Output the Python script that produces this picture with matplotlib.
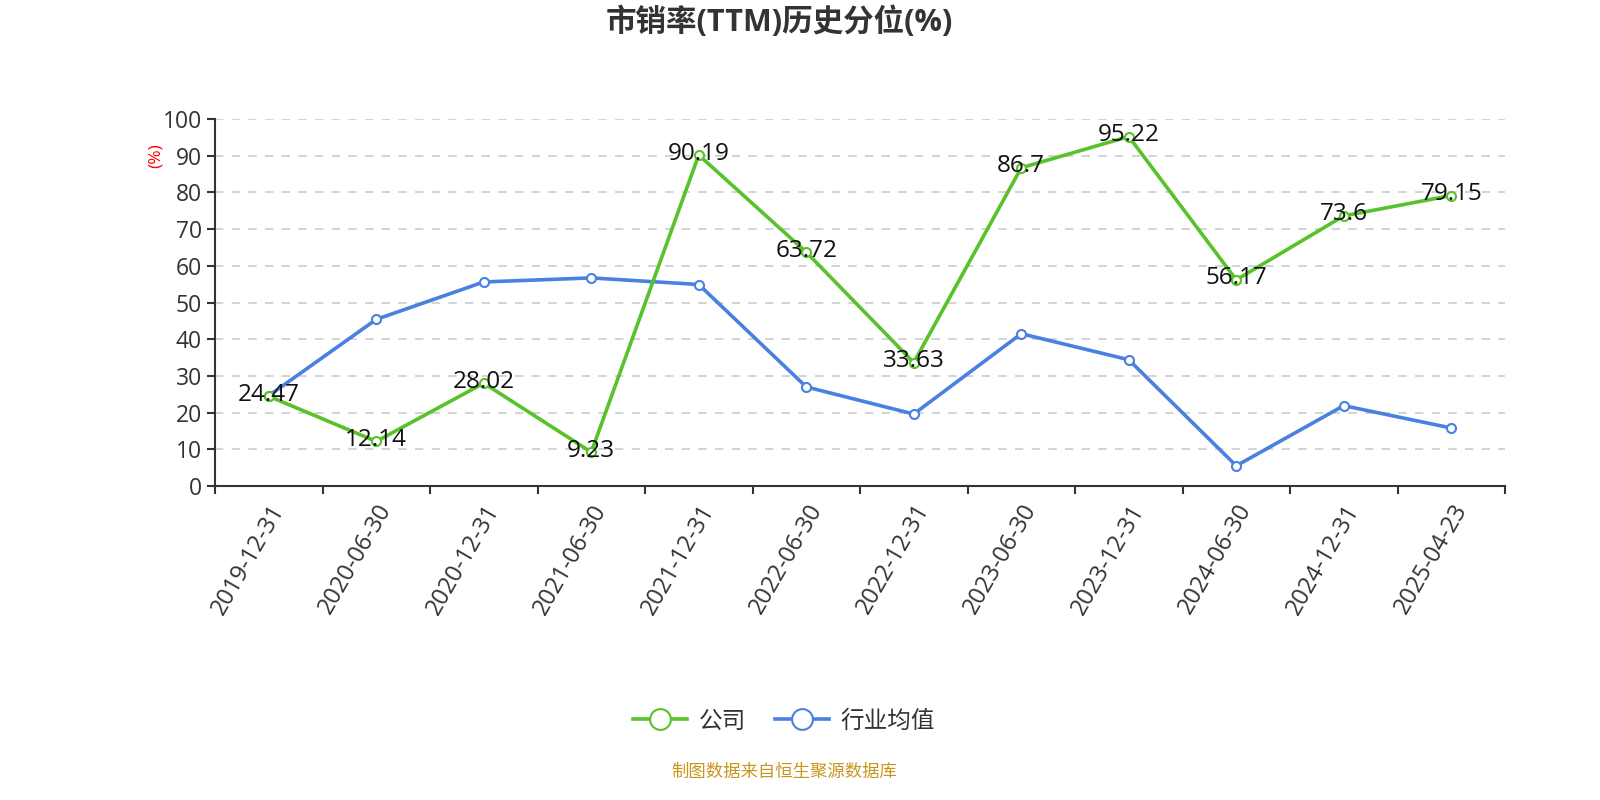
import numpy as np
import matplotlib.pyplot as plt
from matplotlib.ticker import FixedLocator

plt.rcParams['font.family'] = ['Open Sans', 'Noto Sans CJK SC', 'DejaVu Sans']

dates = ['2019-12-31', '2020-06-30', '2020-12-31', '2021-06-30', '2021-12-31', '2022-06-30',
         '2022-12-31', '2023-06-30', '2023-12-31', '2024-06-30', '2024-12-31', '2025-04-23']
company = [24.47, 12.14, 28.02, 9.23, 90.19, 63.72, 33.63, 86.7, 95.22, 56.17, 73.6, 79.15]
industry = [24.6, 45.4, 55.6, 56.7, 54.9, 27.0, 19.6, 41.5, 34.4, 5.5, 21.9, 15.8]

green = '#58c22a'
blue = '#4a80e0'

fig = plt.figure(figsize=(16, 8), dpi=100)
ax = fig.add_axes([215 / 1600, 1 - 486 / 800, 1290 / 1600, 367 / 800])

x = np.arange(len(dates))
ax.plot(x, industry, color=blue, lw=2.6, marker='o', ms=6.5, mfc='white', mec=blue, mew=1.5,
        label='行业均值', zorder=3)
ax.plot(x, company, color=green, lw=2.6, marker='o', ms=6.5, mfc='white', mec=green, mew=1.5,
        label='公司', zorder=4)

# 公司数值标签
for xi, v in zip(x, company):
    ax.annotate(f'{v:g}', (xi, v), xytext=(0, 1), textcoords='offset points',
                ha='center', va='center', fontsize=17.5, color='#111111', zorder=5)

ax.set_xlim(-0.5, len(dates) - 0.5)
ax.set_ylim(0, 100)
ax.set_yticks(np.arange(0, 101, 10))
ax.yaxis.grid(True, color='#cccccc', linestyle=(0, (5, 5)), lw=1.2)
ax.set_axisbelow(True)

ax.xaxis.set_major_locator(FixedLocator(x))
ax.set_xticklabels(dates, rotation=60, ha='right', rotation_mode='anchor', fontsize=17, color='#333333')
ax.xaxis.set_minor_locator(FixedLocator(np.arange(-0.5, len(dates), 1)))
ax.tick_params(axis='x', which='major', length=0, pad=10)
ax.tick_params(axis='x', which='minor', length=6, width=1.5, color='#333333')
ax.tick_params(axis='y', length=6, width=1.5, color='#333333', labelsize=16.5, labelcolor='#333333')

for s in ['top', 'right']:
    ax.spines[s].set_visible(False)
for s in ['left', 'bottom']:
    ax.spines[s].set_color('#333333')
    ax.spines[s].set_linewidth(1.5)

ax.set_ylabel('(%)', color='red', fontsize=12.5, labelpad=2)
ax.yaxis.set_label_coords(-0.04, 0.9)

fig.text(0.487, 0.972, '市销率(TTM)历史分位(%)', ha='center', va='center', fontsize=22,
         fontweight='bold', color='#333333')

handles, labels = ax.get_legend_handles_labels()
leg = fig.legend(handles[::-1], labels[::-1], loc='center', bbox_to_anchor=(0.49, 0.098), ncol=2,
                 frameon=False, fontsize=17, markerscale=2.3, handlelength=2.3, columnspacing=1.2,
                 handletextpad=0.5)
for t in leg.get_texts():
    t.set_color('#333333')

fig.text(0.49, 0.034, '制图数据来自恒生聚源数据库', ha='center', va='center', fontsize=12.5, color='#c8961e')

fig.savefig('out.png', dpi=100)
